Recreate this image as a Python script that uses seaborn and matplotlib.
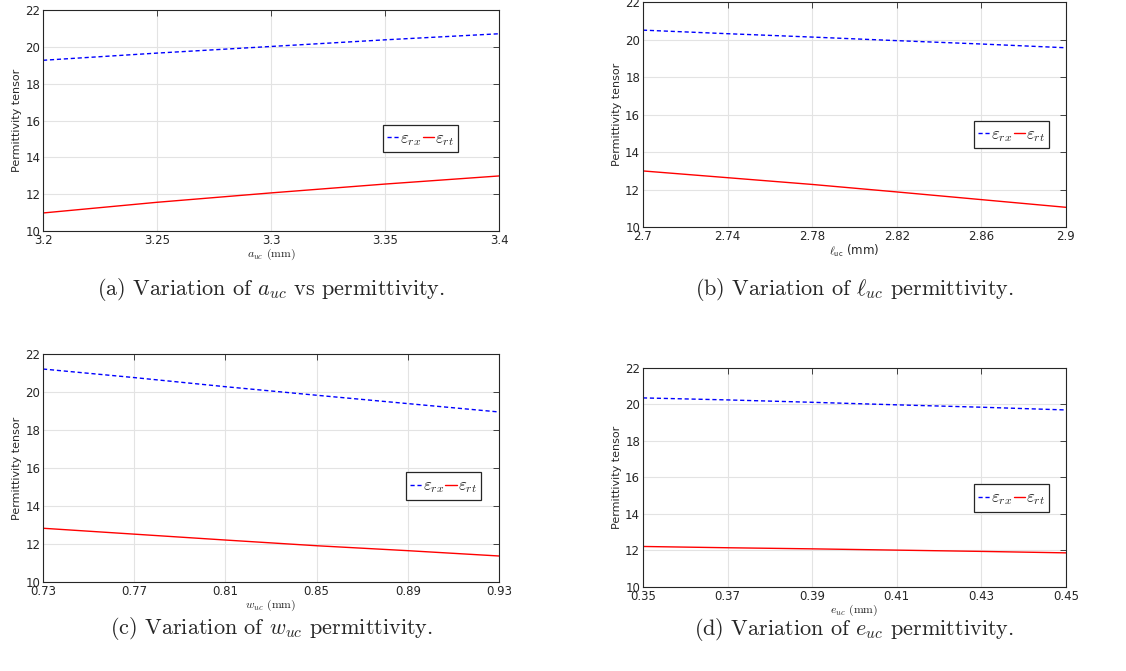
"""
Permittivity tensor vs unit-cell dimensions (4 panels)
"""

import matplotlib
matplotlib.use("Agg")
import matplotlib.pyplot as plt
import seaborn as sns
import pandas as pd

# panel (a) - a_uc
a_uc = [3.2, 3.25, 3.3, 3.35, 3.4]
a_rx = [19.27, 19.66, 20.02, 20.38, 20.71]
a_rt = [10.98, 11.56, 12.07, 12.55, 12.99]

# panel (b) - l_uc
l_uc = [2.7, 2.74, 2.78, 2.82, 2.86, 2.9]
l_rx = [20.50, 20.31, 20.13, 19.94, 19.76, 19.56]
l_rt = [12.99, 12.63, 12.27, 11.87, 11.46, 11.05]

# panel (c) - w_uc
w_uc = [0.73, 0.77, 0.81, 0.85, 0.89, 0.93]
w_rx = [21.21, 20.76, 20.28, 19.83, 19.39, 18.95]
w_rt = [12.83, 12.52, 12.21, 11.91, 11.65, 11.37]

# panel (d) - e_uc
e_uc = [0.35, 0.37, 0.39, 0.41, 0.43, 0.45]
e_rx = [20.36, 20.25, 20.12, 19.98, 19.85, 19.70]
e_rt = [12.22, 12.15, 12.09, 12.02, 11.95, 11.87]

xticks_a = [3.2, 3.25, 3.3, 3.35, 3.4]
xticks_b = [2.7, 2.74, 2.78, 2.82, 2.86, 2.9]
xticks_c = [0.73, 0.77, 0.81, 0.85, 0.89, 0.93]
xticks_d = [0.35, 0.37, 0.39, 0.41, 0.43, 0.45]
yticks = [10, 12, 14, 16, 18, 20, 22]

sns.set_style("whitegrid")
plt.rcParams["font.family"] = ["DejaVu Sans"]
plt.rcParams["mathtext.fontset"] = "cm"

fig = plt.figure(figsize=(11.26, 6.71), dpi=100)

panels = [
    # x, rx, rt, ticks, xlabel, xlabel font, caption, axes rect, legend center, caption y
    (a_uc, a_rx, a_rt, xticks_a, r"$a_{uc}$ (mm)", "cmr10", r"(a) Variation of $a_{uc}$ vs permittivity.",
     [0.0382, 0.6557, 0.405, 0.3294], (0.828, 0.419), 0.568),
    (l_uc, l_rx, l_rt, xticks_b, r"$\ell_{\mathsf{uc}}$ (mm)", "DejaVu Sans", r"(b) Variation of $\ell_{uc}$ permittivity.",
     [0.571, 0.6617, 0.3757, 0.3353], (0.872, 0.411), 0.568),
    (w_uc, w_rx, w_rt, xticks_c, r"$w_{uc}$ (mm)", "cmr10", r"(c) Variation of $w_{uc}$ permittivity.",
     [0.0382, 0.1326, 0.405, 0.3398], (0.878, 0.421), 0.064),
    (e_uc, e_rx, e_rt, xticks_d, r"$e_{uc}$ (mm)", "cmr10", r"(d) Variation of $e_{uc}$ permittivity.",
     [0.571, 0.1252, 0.3757, 0.3264], (0.872, 0.406), 0.062),
]

for x, rx, rt, ticks, xlab, xfont, cap, rect, legpos, capy in panels:
    ax = fig.add_axes(rect)
    df = pd.DataFrame({"x": x + x,
                       "val": rx + rt,
                       "comp": [r"$\varepsilon_{rx}$"] * len(x) + [r"$\varepsilon_{rt}$"] * len(x)})
    sns.lineplot(data=df, x="x", y="val", hue="comp", style="comp",
                 palette=["#0000ff", "#ff0000"], dashes=[(3, 2), ""],
                 linewidth=1.0, ax=ax)
    ax.set_xlim(ticks[0], ticks[-1])
    ax.set_ylim(10, 22)
    ax.set_xticks(ticks)
    ax.set_xticklabels([f"{t:g}" for t in ticks])
    ax.set_yticks(yticks)
    ax.tick_params(direction="in", length=4, width=0.6, labelsize=8.5, colors="#262626",
                   top=True, right=True, pad=2)
    ax.grid(True, color="#e3e3e3", linewidth=0.8)
    for s in ax.spines.values():
        s.set_color("#262626")
        s.set_linewidth(0.8)
    ax.set_xlabel(xlab, fontsize=8.5, labelpad=0, color="#262626", family=xfont)
    ax.set_ylabel("Permittivity tensor", fontsize=8, labelpad=2, color="#262626")
    leg = ax.legend(loc="center", bbox_to_anchor=legpos, ncol=2, fontsize=12,
                    handlelength=0.7, handletextpad=0.05, columnspacing=0.1,
                    borderpad=0.25, borderaxespad=0, fancybox=False, framealpha=1,
                    edgecolor="#262626", title=None)
    leg.get_frame().set_linewidth(0.9)
    cx = rect[0] + rect[2] / 2
    fig.text(cx, capy, cap, ha="center", va="center", fontsize=16, family="cmr10")

fig.savefig("out.png", dpi=100)
